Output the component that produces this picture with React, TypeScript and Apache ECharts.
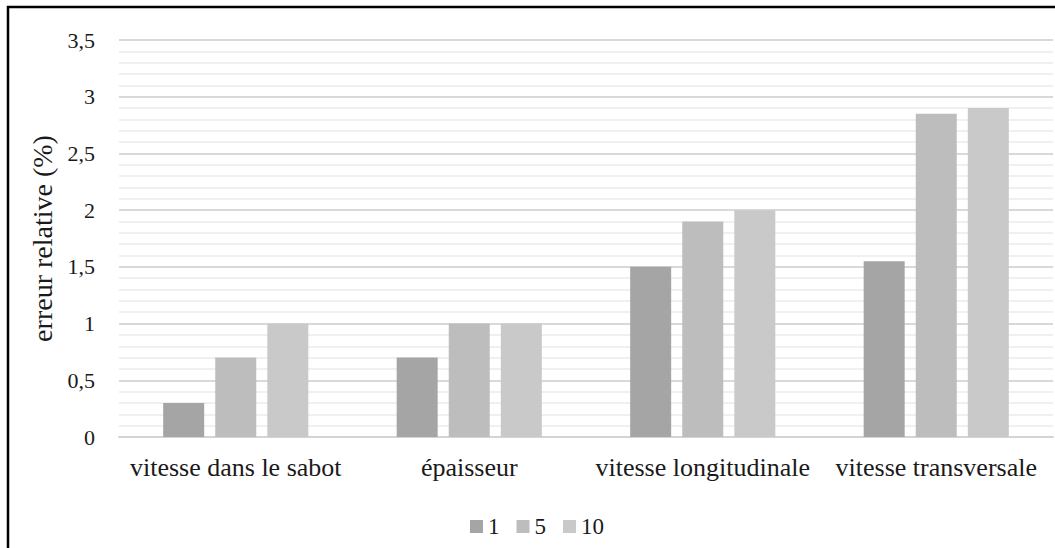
import React, { useEffect, useRef } from "react";
import * as echarts from "echarts";

const categories = ["vitesse dans le sabot", "épaisseur", "vitesse longitudinale", "vitesse transversale"];
const seriesNames = ["1", "5", "10"];
const values1 = [0.3, 0.7, 1.5, 1.55];
const values5 = [0.7, 1.0, 1.9, 2.85];
const values10 = [1.0, 1.0, 2.0, 2.9];
const colors = ["#a5a5a5", "#bdbdbd", "#c9c9c9"];
const yTicks = { min: 0, max: 3.5, interval: 0.5 };

const FONT = "'Liberation Serif', serif";

export default function App() {
  const ref = useRef<HTMLDivElement>(null);
  useEffect(() => {
    document.body.style.margin = "0";
    const chart = echarts.init(ref.current!, null, { renderer: "svg" });
    const data = [values1, values5, values10];
    chart.setOption({
      animation: false,
      backgroundColor: "#ffffff",
      textStyle: { fontFamily: FONT },
      grid: { left: 119, right: 2, top: 40, bottom: 111, containLabel: false },
      legend: {
        data: seriesNames,
        left: 465,
        top: 510,
        itemWidth: 13,
        itemHeight: 13,
        itemGap: 17,
        icon: "rect",
        textStyle: { fontFamily: FONT, fontSize: 23, color: "#1a1a1a" },
      },
      xAxis: {
        type: "category",
        data: categories,
        axisLine: { show: true, lineStyle: { color: "#d4d4d4", width: 2 } },
        axisTick: { show: false },
        axisLabel: { fontFamily: FONT, fontSize: 26, color: "#1a1a1a", margin: 17, interval: 0 },
      },
      yAxis: {
        type: "value",
        min: yTicks.min,
        max: yTicks.max,
        interval: yTicks.interval,
        name: "erreur relative (%)",
        nameLocation: "middle",
        nameGap: 62,
        nameTextStyle: { fontFamily: FONT, fontSize: 28, color: "#1a1a1a" },
        axisLine: { show: false },
        axisTick: { show: false },
        axisLabel: {
          fontFamily: FONT,
          fontSize: 22,
          color: "#1a1a1a",
          margin: 24,
          formatter: (v: number) => String(v).replace(".", ","),
        },
        splitLine: { show: true, lineStyle: { color: "#d9d9d9", width: 2 } },
        minorTick: { show: false, splitNumber: 5 },
        minorSplitLine: { show: true, lineStyle: { color: "#f0f0f0", width: 2 } },
      },
      series: seriesNames.map((name, i) => ({
        name,
        type: "bar",
        data: data[i],
        barWidth: 41,
        barGap: "27%",
        itemStyle: { color: colors[i] },
      })),
      graphic: [
        {
          type: "rect",
          shape: { x: 8, y: 7, width: 1200, height: 700 },
          style: { fill: "none", stroke: "#000", lineWidth: 2.5 },
          z: 100,
        },
      ],
    });
    return () => chart.dispose();
  }, []);
  return <div ref={ref} style={{ width: 1055, height: 548 }} />;
}
